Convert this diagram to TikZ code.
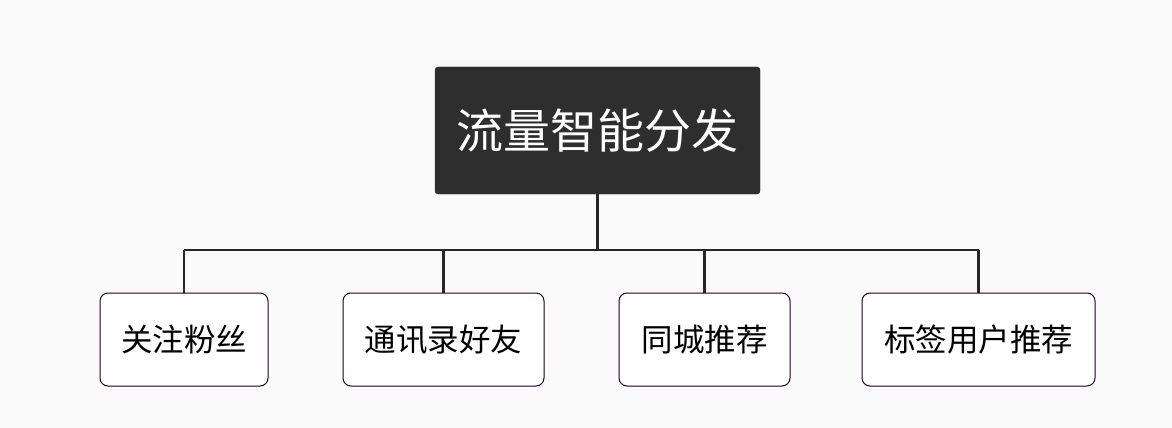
\documentclass[tikz,border=0pt]{standalone}
\usepackage{fontspec}
\setmainfont{Noto Sans CJK SC}
\usetikzlibrary{positioning}
\begin{document}
\begin{tikzpicture}[
        x=1pt, y=-1pt,
        every node/.style={align=center},
        root/.style={fill=black!82, draw=black!82, rounded corners=3pt, text=white,
            minimum width=325pt, minimum height=127pt, font=\fontsize{47}{52}\selectfont},
        leaf/.style={draw=black!80!violet, fill=white, rounded corners=8pt, line width=1pt,
            minimum height=93pt, font=\fontsize{31.5}{36}\selectfont},
        bus/.style={line width=2.2pt, black!85},
    ]
    \fill[black!2] (0,0) rectangle (1172,428);
    \useasboundingbox (0,0) rectangle (1172,428);
    \node[root] (top) at (597.5,130.5) {流量智能分发};
    \node[leaf, minimum width=168pt] (fans) at (184,339.5) {关注粉丝};
    \node[leaf, minimum width=201pt] (contacts) at (443.5,339.5) {通讯录好友};
    \node[leaf, minimum width=171pt] (city) at (704.5,339.5) {同城推荐};
    \node[leaf, minimum width=233pt] (tags) at (978.5,339.5) {标签用户推荐};
    \coordinate (hub) at (597.5,250);
    \draw[bus] (top.south) -- (hub);
    \foreach \n in {fans,contacts,city,tags}
        \draw[bus] (\n.north) -- (\n.north |- hub);
    \draw[bus] (fans.north |- hub) -- (tags.north |- hub);
\end{tikzpicture}
\end{document}
